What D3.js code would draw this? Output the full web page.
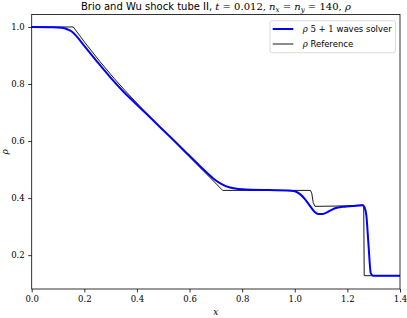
<!DOCTYPE html>
<html>
<head>
<meta charset="utf-8">
<script src="https://cdn.jsdelivr.net/npm/d3@7"></script>
<style>
  body { margin: 0; background: #fff; }
  .serif { font-family: "DejaVu Serif", "Liberation Serif", serif; }
  .sans { font-family: "DejaVu Sans", sans-serif; }
</style>
</head>
<body>
<div id="chart"></div>
<script>
// reference solution (black)
const refX = [0.0, 0.158, 0.2, 0.26, 0.313, 0.355, 0.412, 0.47, 0.526, 0.58, 0.64, 0.68, 0.726,
  1.060, 1.065, 1.070, 1.077, 1.15, 1.2, 1.262, 1.264, 1.4];
const refY = [1.0, 1.0, 0.948, 0.878, 0.820, 0.777, 0.721, 0.666, 0.614, 0.563, 0.507, 0.470, 0.427,
  0.427, 0.415, 0.385, 0.371, 0.372, 0.373, 0.376, 0.128, 0.128];

// 5+1 waves solver (blue)
const solX = [0.0, 0.08, 0.114, 0.135, 0.152, 0.17, 0.2, 0.25, 0.304, 0.35, 0.412, 0.47, 0.526, 0.58,
  0.64, 0.69, 0.722, 0.754, 0.8, 0.9, 0.97, 1.0, 1.02, 1.04, 1.06, 1.075, 1.09, 1.105, 1.12, 1.14,
  1.16, 1.19, 1.22, 1.258, 1.265, 1.272, 1.28, 1.289, 1.298, 1.4];
const solY = [1.0, 0.999, 0.997, 0.992, 0.984, 0.968, 0.934, 0.877, 0.818, 0.772, 0.717, 0.665, 0.615, 0.566,
  0.512, 0.469, 0.449, 0.437, 0.431, 0.428, 0.427, 0.424, 0.414, 0.395, 0.370, 0.352, 0.344, 0.344, 0.349, 0.359,
  0.366, 0.370, 0.372, 0.375, 0.368, 0.340, 0.240, 0.136, 0.128, 0.128];

const xTicks = [0.0, 0.2, 0.4, 0.6, 0.8, 1.0, 1.2, 1.4];
const yTicks = [0.2, 0.4, 0.6, 0.8, 1.0];

const W = 407, H = 318;
const margin = {top: 14.5, right: 7, bottom: 29, left: 31.7};
const width = W - margin.left - margin.right;
const height = H - margin.top - margin.bottom;

const svg = d3.select("#chart").append("svg")
  .attr("width", W).attr("height", H);

const g = svg.append("g").attr("transform", `translate(${margin.left},${margin.top})`);

const x = d3.scaleLinear().domain([0, 1.4]).range([0, width]);
const y = d3.scaleLinear().domain([0.0813, 1.0437]).range([height, 0]);

// axes
const xAxis = g.append("g")
  .attr("transform", `translate(0,${height})`)
  .call(d3.axisBottom(x).tickValues(xTicks).tickFormat(d3.format(".1f")).tickSize(3.5).tickPadding(3.5));
const yAxis = g.append("g")
  .call(d3.axisLeft(y).tickValues(yTicks).tickFormat(d3.format(".1f")).tickSize(3.5).tickPadding(3.5));

[xAxis, yAxis].forEach(a => {
  a.select(".domain").remove();
  a.selectAll("line").attr("stroke", "#000").attr("stroke-width", 0.8);
  a.selectAll("text").attr("class", "serif").attr("font-size", "8.5px").attr("fill", "#000");
});

// lines
const lineGen = d3.line().x(d => x(d[0])).y(d => y(d[1]));

g.append("path")
  .datum(d3.zip(refX, refY))
  .attr("fill", "none")
  .attr("stroke", "#000")
  .attr("stroke-width", 0.9)
  .attr("d", lineGen);

g.append("path")
  .datum(d3.zip(solX, solY))
  .attr("fill", "none")
  .attr("stroke", "#0000ff")
  .attr("stroke-width", 2)
  .attr("d", lineGen.curve(d3.curveMonotoneX));

// frame
g.append("rect")
  .attr("width", width).attr("height", height)
  .attr("fill", "none").attr("stroke", "#000").attr("stroke-width", 0.8);

// title
const title = svg.append("text")
  .attr("x", margin.left + width / 2).attr("y", 10)
  .attr("text-anchor", "middle")
  .attr("font-size", "10px")
  .attr("class", "sans");
title.append("tspan").text("Brio and Wu shock tube II, ");
title.append("tspan").attr("class", "serif").attr("font-style", "italic").text("t");
title.append("tspan").attr("class", "serif").text(" = 0.012, ");
title.append("tspan").attr("class", "serif").attr("font-style", "italic").text("n");
title.append("tspan").attr("class", "serif").attr("font-style", "italic").attr("font-size", "7px").attr("dy", 2).text("x");
title.append("tspan").attr("class", "serif").attr("dy", -2).text(" = ");
title.append("tspan").attr("class", "serif").attr("font-style", "italic").text("n");
title.append("tspan").attr("class", "serif").attr("font-style", "italic").attr("font-size", "7px").attr("dy", 2).text("y");
title.append("tspan").attr("class", "serif").attr("dy", -2).text(" = 140, ");
title.append("tspan").attr("class", "serif").attr("font-style", "italic").text("ρ");

// axis labels
svg.append("text")
  .attr("x", margin.left + width / 2).attr("y", 315)
  .attr("text-anchor", "middle")
  .attr("class", "serif").attr("font-style", "italic").attr("font-size", "9px")
  .text("x");
svg.append("text")
  .attr("transform", `translate(8,${margin.top + height / 2}) rotate(-90)`)
  .attr("text-anchor", "middle")
  .attr("class", "serif").attr("font-style", "italic").attr("font-size", "9px")
  .text("ρ");

// legend
const legend = svg.append("g").attr("transform", "translate(270,20.7)");
legend.append("rect")
  .attr("width", 125.5).attr("height", 32)
  .attr("rx", 2).attr("ry", 2)
  .attr("fill", "#fff").attr("fill-opacity", 0.8)
  .attr("stroke", "#d0d0d0").attr("stroke-width", 0.8);

const items = [
  {color: "#0000ff", w: 2, label: [["ρ 5 + 1", true], [" waves solver", false]]},
  {color: "#000", w: 0.9, label: [["ρ", true], [" Reference", false]]}
];
items.forEach((it, i) => {
  const yy = 8.3 + i * 15;
  legend.append("line")
    .attr("x1", 2.7).attr("x2", 23.3).attr("y1", yy).attr("y2", yy)
    .attr("stroke", it.color).attr("stroke-width", it.w);
  const t = legend.append("text")
    .attr("x", 32.7).attr("y", yy + 3)
    .attr("font-size", "8.5px");
  it.label.forEach(([s, math]) => {
    if (math) {
      const parts = s.split(" ");
      t.append("tspan").attr("class", "serif").attr("font-style", "italic").text(parts[0]);
      if (parts.length > 1) t.append("tspan").attr("class", "serif").text(" " + parts.slice(1).join(" "));
    } else {
      t.append("tspan").attr("class", "sans").text(s);
    }
  });
});
</script>
</body>
</html>
